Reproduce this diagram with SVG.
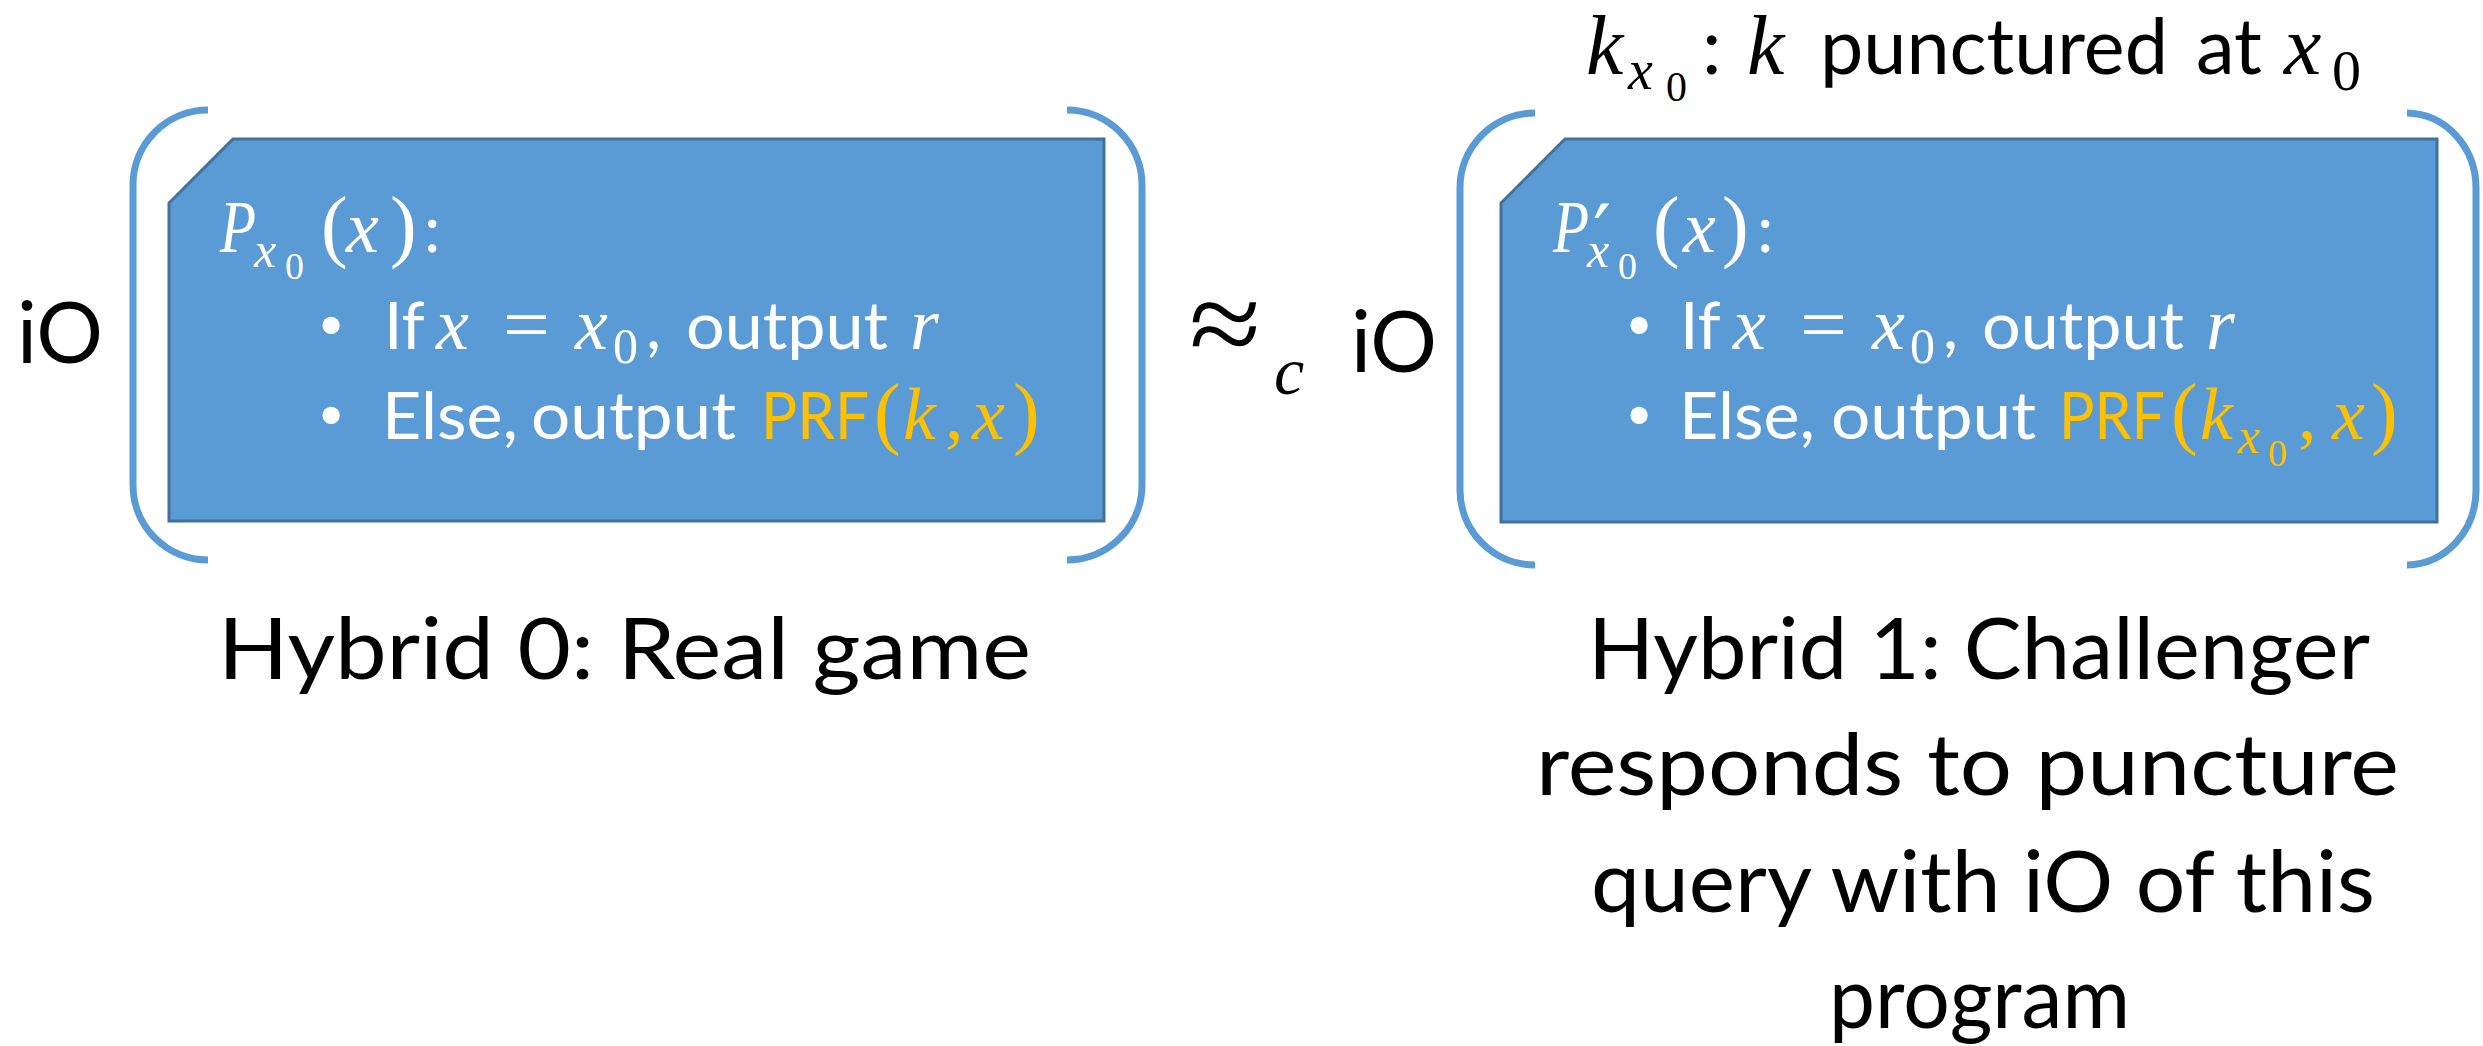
<svg xmlns="http://www.w3.org/2000/svg" width="2483" height="1046" viewBox="0 0 2483 1046">
<style>
.box{fill:#5B9BD5;stroke:#41719C;stroke-width:3}
.br{fill:none;stroke:#5B9BD5;stroke-width:7}
.s{font-family:Lato,"Liberation Sans",sans-serif}
.m{font-family:"Liberation Serif",serif;font-style:italic}
.u{font-family:"Liberation Serif",serif;font-style:normal}
.pr{font-family:"DejaVu Sans",sans-serif;font-style:normal}
.w{fill:#FFFFFF}
.o{fill:#FFC000}
.k{fill:#000000}
.b72{font-size:66px}
.m72{font-size:74px}
.big{font-size:86px}
</style>
<rect width="2483" height="1046" fill="#FFFFFF"/>

<g id="left-io">
<text class="s k big" x="17" y="363" textLength="86" lengthAdjust="spacingAndGlyphs">iO</text>
<path class="br" d="M208,110 A75,75 0 0 0 133,185 L133,485 A75,75 0 0 0 208,560"/>
<path class="br" d="M1067,110 A75,75 0 0 1 1142,185 L1142,485 A75,75 0 0 1 1067,560"/>
</g>

<g id="node-left">
<path class="box" d="M233,139 L1104,139 L1104,521 L169,521 L169,203 Z"/>
<text class="w"><tspan class="m" font-size="74" x="220" y="252" textLength="36" lengthAdjust="spacingAndGlyphs">P</tspan><tspan class="m" font-size="50" x="254" y="267">x</tspan><tspan class="u" font-size="38" x="285" y="279">0</tspan><tspan class="u" font-size="80" x="321" y="252">(</tspan><tspan class="m" font-size="74" x="346" y="252">x</tspan><tspan class="u" font-size="80" x="390" y="252">)</tspan><tspan class="s" font-size="66" x="424" y="252">:</tspan></text>

<text class="u w" font-size="72" x="331" y="349" text-anchor="middle">•</text>
<text class="w"><tspan class="s" font-size="66" x="384" y="349">If</tspan><tspan class="m" font-size="74" x="436" y="349">x</tspan></text>
<text class="u w m72" x="503" y="349" textLength="47" lengthAdjust="spacingAndGlyphs">=</text>
<text class="w"><tspan class="m" font-size="74" x="575" y="349">x</tspan><tspan class="u" font-size="50" x="613" y="363">0</tspan><tspan class="s" font-size="66" x="646" y="349">,</tspan></text>
<text class="s w b72" x="686" y="349" textLength="202" lengthAdjust="spacingAndGlyphs">output</text>
<text class="m w m72" x="910" y="349">r</text>

<text class="u w" font-size="72" x="331" y="439" text-anchor="middle">•</text>
<text class="s w b72" x="382" y="439" textLength="136" lengthAdjust="spacingAndGlyphs">Else,</text>
<text class="s w b72" x="531" y="439" textLength="205" lengthAdjust="spacingAndGlyphs">output</text>
<text class="s o b72" x="761" y="439" textLength="108" lengthAdjust="spacingAndGlyphs">PRF</text>
<text class="o"><tspan class="u" font-size="80" x="874" y="439">(</tspan><tspan class="m" font-size="74" x="903" y="439">k</tspan><tspan class="u" font-size="74" x="945" y="439">,</tspan><tspan class="m" font-size="74" x="972" y="439">x</tspan><tspan class="u" font-size="80" x="1013" y="439">)</tspan></text>
</g>

<g id="approx">
<text class="k"><tspan class="u" font-size="120" x="1189" y="364" textLength="72" lengthAdjust="spacingAndGlyphs">≈</tspan><tspan class="m" font-size="68" x="1274" y="394">c</tspan></text>
<text class="s k big" x="1351" y="372" textLength="86" lengthAdjust="spacingAndGlyphs">iO</text>
</g>

<g id="right-io">
<path class="br" d="M1535,113 A75,75 0 0 0 1460,188 L1460,490 A75,75 0 0 0 1535,565"/>
<path class="br" d="M2407,113 A70,75 0 0 1 2476,188 L2476,490 A70,75 0 0 1 2407,565"/>
</g>

<g id="node-right">
<path class="box" d="M1565,139 L2437,139 L2437,522 L1501,522 L1501,203 Z"/>
<text class="w"><tspan class="m" font-size="74" x="1553" y="252" textLength="36" lengthAdjust="spacingAndGlyphs">P</tspan><tspan class="pr" font-size="80" x="1593" y="262">′</tspan><tspan class="m" font-size="50" x="1587" y="267">x</tspan><tspan class="u" font-size="38" x="1618" y="279">0</tspan><tspan class="u" font-size="80" x="1653" y="252">(</tspan><tspan class="m" font-size="74" x="1683" y="252">x</tspan><tspan class="u" font-size="80" x="1722" y="252">)</tspan><tspan class="s" font-size="66" x="1757" y="252">:</tspan></text>

<text class="u w" font-size="72" x="1639" y="349" text-anchor="middle">•</text>
<text class="w"><tspan class="s" font-size="66" x="1680" y="349">If</tspan><tspan class="m" font-size="74" x="1733" y="349">x</tspan></text>
<text class="u w m72" x="1800" y="349" textLength="47" lengthAdjust="spacingAndGlyphs">=</text>
<text class="w"><tspan class="m" font-size="74" x="1872" y="349">x</tspan><tspan class="u" font-size="50" x="1910" y="363">0</tspan><tspan class="s" font-size="66" x="1943" y="349">,</tspan></text>
<text class="s w b72" x="1982" y="349" textLength="202" lengthAdjust="spacingAndGlyphs">output</text>
<text class="m w m72" x="2206" y="349">r</text>

<text class="u w" font-size="72" x="1639" y="439" text-anchor="middle">•</text>
<text class="s w b72" x="1679" y="439" textLength="136" lengthAdjust="spacingAndGlyphs">Else,</text>
<text class="s w b72" x="1831" y="439" textLength="205" lengthAdjust="spacingAndGlyphs">output</text>
<text class="s o b72" x="2059" y="439" textLength="106" lengthAdjust="spacingAndGlyphs">PRF</text>
<text class="o"><tspan class="u" font-size="80" x="2171" y="439">(</tspan><tspan class="m" font-size="74" x="2200" y="439">k</tspan><tspan class="m" font-size="50" x="2238" y="453">x</tspan><tspan class="u" font-size="38" x="2268" y="466">0</tspan><tspan class="u" font-size="74" x="2298" y="439">,</tspan><tspan class="m" font-size="74" x="2332" y="439">x</tspan><tspan class="u" font-size="80" x="2371" y="439">)</tspan></text>
</g>

<g id="label-top">
<text class="k"><tspan class="m" font-size="84" x="1586" y="74">k</tspan><tspan class="m" font-size="56" x="1628" y="89">x</tspan><tspan class="u" font-size="42" x="1666" y="101">0</tspan><tspan class="s" font-size="78" x="1702" y="74">:</tspan><tspan class="m" font-size="84" x="1747" y="74">k</tspan></text>
<text class="s k" font-size="78" x="1820" y="74" textLength="348" lengthAdjust="spacingAndGlyphs">punctured</text>
<text class="s k" font-size="78" x="2196" y="74" textLength="66" lengthAdjust="spacingAndGlyphs">at</text>
<text class="k"><tspan class="m" font-size="84" x="2284" y="74">x</tspan><tspan class="u" font-size="58" x="2332" y="90">0</tspan></text>
</g>

<g id="caption-left">
<text class="s k big" x="218" y="679" textLength="813" lengthAdjust="spacingAndGlyphs">Hybrid 0: Real game</text>
</g>

<g id="caption-right">
<text class="s k big" x="1588" y="679" textLength="782" lengthAdjust="spacingAndGlyphs">Hybrid 1: Challenger</text>
<text class="s k big" x="1536" y="795" textLength="863" lengthAdjust="spacingAndGlyphs">responds to puncture</text>
<text class="s k big" x="1591" y="912" textLength="784" lengthAdjust="spacingAndGlyphs">query with iO of this</text>
<text class="s k big" x="1829" y="1028" textLength="301" lengthAdjust="spacingAndGlyphs">program</text>
</g>
</svg>
